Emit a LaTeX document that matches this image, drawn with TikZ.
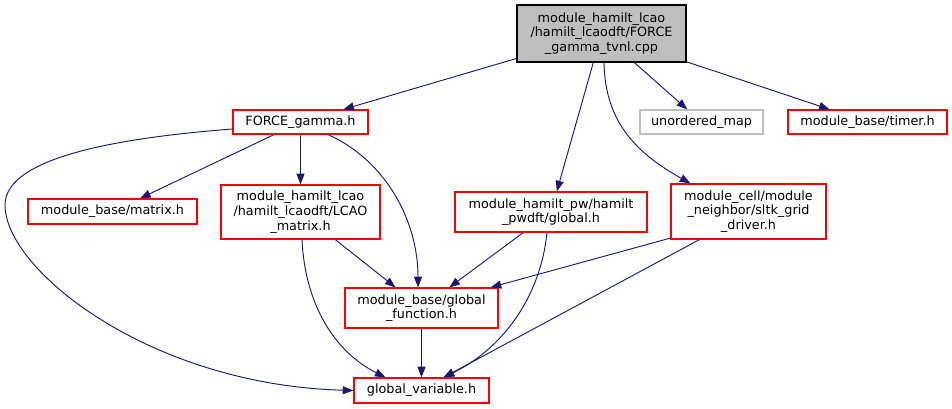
\documentclass[tikz,border=0pt]{standalone}
\usepackage{fontspec}
\setmainfont{DejaVu Sans}
\usetikzlibrary{arrows.meta,calc}
\definecolor{edgec}{HTML}{191970}
\definecolor{boxred}{HTML}{FF0000}
\definecolor{boxgray}{HTML}{BFBFBF}
\begin{document}
\begin{tikzpicture}[x=0.75pt,y=-0.75pt,
  box/.style={draw=boxred,line width=0.9pt,fill=white,rectangle,inner sep=0pt,align=center,
    font=\fontsize{9.6pt}{11pt}\selectfont},
  rootbox/.style={box,draw=black,fill=boxgray},
  graybox/.style={box,draw=boxgray},
  edge/.style={draw=edgec,line width=0.7pt,-{Triangle[length=8pt,width=6pt]}}]
\useasboundingbox (0,0) rectangle (952,409);
\node[rootbox,minimum width=126.75pt,minimum height=42.75pt] (root) at (601.5,33.5)
  {module\_hamilt\_lcao\\/hamilt\_lcaodft/FORCE\\\_gamma\_tvnl.cpp};
\node[box,minimum width=101.25pt,minimum height=18pt] (force) at (300.5,122) {FORCE\_gamma.h};
\node[graybox,minimum width=92.25pt,minimum height=18pt] (umap) at (701.5,122) {unordered\_map};
\node[box,minimum width=119.25pt,minimum height=18pt] (timer) at (867.5,122) {module\_base/timer.h};
\node[box,minimum width=126.75pt,minimum height=18.75pt] (matrix) at (112.5,211.5) {module\_base/matrix.h};
\node[box,minimum width=119.25pt,minimum height=40.5pt] (lcao) at (300.5,212)
  {module\_hamilt\_lcao\\/hamilt\_lcaodft/LCAO\\\_matrix.h};
\node[box,minimum width=144pt,minimum height=30pt] (pwdft) at (551,212)
  {module\_hamilt\_pw/hamilt\\\_pwdft/global.h};
\node[box,minimum width=116.25pt,minimum height=41.25pt] (sltk) at (748.5,211.5)
  {module\_cell/module\\\_neighbor/sltk\_grid\\\_driver.h};
\node[box,minimum width=114.75pt,minimum height=30pt] (gfunc) at (421.5,308)
  {module\_base/global\\\_function.h};
\node[box,minimum width=101.25pt,minimum height=18.75pt] (gvar) at (421.5,390.5) {global\_variable.h};

% edges from root
\draw[edge] (root) -- (force);
\draw[edge] (root) -- (pwdft);
\draw[edge] (root) -- (umap);
\draw[edge] (root) -- (timer);
\draw[edge] ($(root.south)+(2.5,0)$) .. controls (605,125) and (640,155) .. ($(sltk.north west)+(20,0)$);
% edges from force
\draw[edge] (force) -- (matrix);
\draw[edge] (force) -- (lcao);
\draw[edge] ($(force.south)+(27.5,0)$) .. controls (385,160) and (418,220) .. ($(gfunc.north)+(-3.5,0)$);
\draw[edge] ($(force.west)+(0,7)$) .. controls (130,137) and (5,155) .. (5,205)
  .. controls (5,270) and (150,385) .. ($(gvar.west)+(0,0)$);
% edges from lcao
\draw[edge] (lcao) -- (gfunc);
\draw[edge] ($(lcao.south)+(1.5,0)$) .. controls (305,305) and (335,352) .. ($(gvar.north)+(-36,0)$);
% edges from pwdft
\draw[edge] (pwdft) -- (gfunc);
\draw[edge] ($(pwdft.south)+(-4,0)$) .. controls (540,300) and (500,350) .. ($(gvar.north)+(22,0)$);
% edges from sltk
\draw[edge] ($(sltk.south west)+(0,-1.5)$) -- ($(gfunc.north east)+(-8,0)$);
\draw[edge] ($(sltk.south west)+(29,0)$) -- ($(gvar.north)+(22,0)$);
% gfunc to gvar
\draw[edge] (gfunc) -- (gvar);
\end{tikzpicture}
\end{document}
